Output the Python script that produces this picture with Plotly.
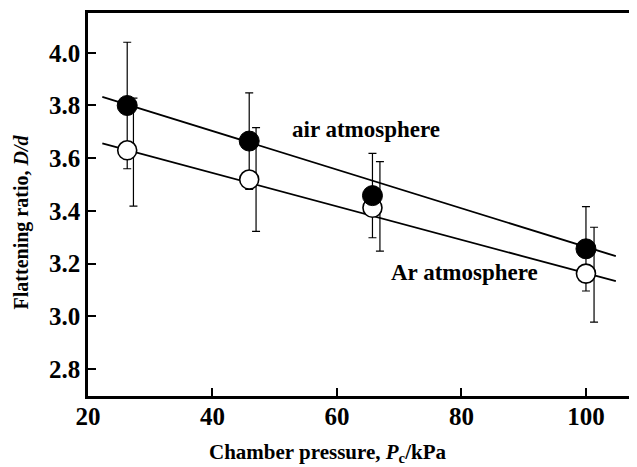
import plotly.graph_objects as go

# ---- data ----
pressure = [26.3, 45.9, 65.7, 100.0]
air_ratio = [3.80, 3.665, 3.458, 3.256]
air_err = [0.24, 0.183, 0.16, 0.16]

ar_ratio = [3.63, 3.519, 3.412, 3.162]
ar_err_x = [27.3, 47.0, 66.9, 101.3]
ar_err_center = [3.623, 3.519, 3.417, 3.158]
ar_err = [0.205, 0.197, 0.17, 0.18]

air_fit_x = [22.3, 104.8]
air_fit_y = [3.833, 3.228]
ar_fit_x = [22.3, 104.8]
ar_fit_y = [3.656, 3.133]

x_ticks = [20, 40, 60, 80, 100]
y_ticks = [2.8, 3.0, 3.2, 3.4, 3.6, 3.8, 4.0]

FONT = "Liberation Serif"
# page body has an 8px default margin; plot area spans page px x 88-637, y 13-396
PAGE_OFF = 8
L, R, T, B = 88, 637, 13, 396

fig = go.Figure()

fig.add_trace(go.Scatter(x=air_fit_x, y=air_fit_y, mode="lines",
                         line=dict(color="black", width=1.8), showlegend=False))
fig.add_trace(go.Scatter(x=ar_fit_x, y=ar_fit_y, mode="lines",
                         line=dict(color="black", width=1.8), showlegend=False))

fig.add_trace(go.Scatter(x=ar_err_x, y=ar_err_center, mode="markers",
                         marker=dict(size=1, color="rgba(0,0,0,0)"),
                         error_y=dict(type="data", array=ar_err, color="black",
                                      thickness=1.2, width=4),
                         showlegend=False))
fig.add_trace(go.Scatter(x=pressure, y=air_ratio, mode="markers",
                         marker=dict(size=1, color="rgba(0,0,0,0)"),
                         error_y=dict(type="data", array=air_err, color="black",
                                      thickness=1.2, width=4),
                         showlegend=False))

fig.add_trace(go.Scatter(x=pressure, y=ar_ratio, mode="markers",
                         marker=dict(symbol="circle", size=19, color="white",
                                     line=dict(color="black", width=1.6)),
                         showlegend=False))
fig.add_trace(go.Scatter(x=pressure, y=air_ratio, mode="markers",
                         marker=dict(symbol="circle", size=20, color="black",
                                     line=dict(color="black", width=1)),
                         showlegend=False))

fig.add_annotation(x=64.66, y=3.709, text="<b>air atmosphere</b>", showarrow=False,
                   font=dict(family=FONT, size=23, color="black"))
fig.add_annotation(x=80.56, y=3.165, text="<b>Ar atmosphere</b>", showarrow=False,
                   font=dict(family=FONT, size=23, color="black"))

fig.add_annotation(xref="paper", yref="paper",
                   x=(327.5 - L) / (R - L), y=-(452.7 - B) / (B - T),
                   xanchor="center", yanchor="middle",
                   text="<b>Chamber pressure, <i>P</i><sub>c</sub>/kPa</b>",
                   showarrow=False, font=dict(family=FONT, size=21, color="black"))
fig.add_annotation(xref="paper", yref="paper",
                   x=-(L - 21.7) / (R - L), y=(B - 221.7) / (B - T),
                   text="<b>Flattening ratio, <i>D/d</i></b>", textangle=-90,
                   showarrow=False, xanchor="center", yanchor="middle",
                   font=dict(family=FONT, size=20, color="black"))

tickfont = dict(family=FONT, size=25, color="black")
fig.update_layout(
    width=637 - PAGE_OFF, height=467 - PAGE_OFF,
    margin=dict(l=L - PAGE_OFF, r=0, t=T - PAGE_OFF, b=467 - B, pad=0),
    plot_bgcolor="white", paper_bgcolor="white",
    font=dict(family=FONT, size=20, color="black"),
    xaxis=dict(range=[20, 108.2], tickmode="array", tickvals=x_ticks,
               ticktext=[f"<b>{v}</b>" for v in x_ticks],
               ticks="inside", ticklen=8, tickwidth=2, tickcolor="black",
               showline=True, linewidth=2.5, linecolor="black", mirror=True,
               showgrid=False, zeroline=False, tickfont=tickfont,
               ticklabelstandoff=-4),
    yaxis=dict(range=[2.6975, 4.151], tickmode="array", tickvals=y_ticks,
               ticktext=[f"<b>{v:.1f}</b>" for v in y_ticks],
               ticks="inside", ticklen=8, tickwidth=2, tickcolor="black",
               showline=True, linewidth=2.5, linecolor="black",
               showgrid=False, zeroline=False, tickfont=tickfont),
)

fig.write_html("out.html")
